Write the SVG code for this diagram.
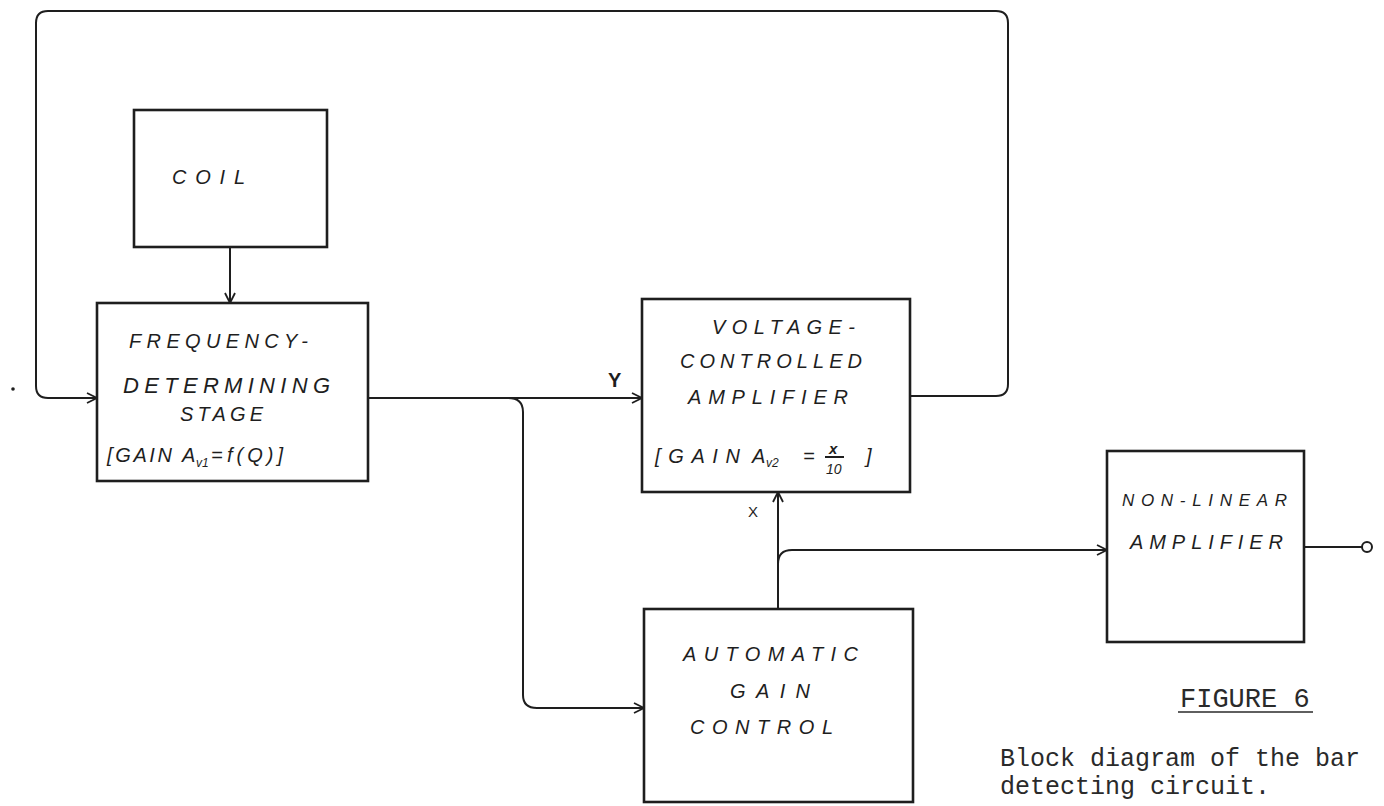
<svg xmlns="http://www.w3.org/2000/svg" width="1384" height="806" viewBox="0 0 1384 806">
<style>
.box{fill:none;stroke:#1e1e1e;stroke-width:2.6}
.wire{fill:none;stroke:#1e1e1e;stroke-width:2}
.hand{font-family:"Liberation Sans",Arial,sans-serif;font-style:italic;font-size:20px;fill:#1e1e1e}
.type{font-family:"Liberation Mono","Courier New",monospace;font-size:25px;fill:#2a2a2a}
.lbl{font-family:"Liberation Sans",Arial,sans-serif;fill:#1e1e1e}
</style>
<defs>
<marker id="arr" viewBox="0 0 12 12" refX="11" refY="6" markerWidth="12" markerHeight="12" markerUnits="userSpaceOnUse" orient="auto">
<path d="M1,1 L11,6 L1,11" fill="none" stroke="#1e1e1e" stroke-width="1.8"/>
</marker>
</defs>
<rect width="1384" height="806" fill="#ffffff"/>

<g id="connectors">
<path class="wire" d="M230,247 V303" marker-end="url(#arr)"/>
<path class="wire" d="M911,396 H996 Q1008,396 1008,384 V23 Q1008,11 996,11 H48 Q36,11 36,23 V386 Q36,398 48,398 H97" marker-end="url(#arr)"/>
<path class="wire" d="M368,398 H642" marker-end="url(#arr)"/>
<path class="wire" d="M508,398 Q523,398 523,412 V695 Q523,708 537,708 H644" marker-end="url(#arr)"/>
<path class="wire" d="M778,609 V492" marker-end="url(#arr)"/>
<path class="wire" d="M778,564 Q778,550 792,550 H1107" marker-end="url(#arr)"/>
<path class="wire" d="M1304,547 H1362"/>
<circle cx="1367" cy="547" r="5" fill="#fff" stroke="#1e1e1e" stroke-width="2"/>
<circle cx="13" cy="389" r="1.8" fill="#1e1e1e"/>
<text class="lbl" x="608" y="387" style="font-size:20px;font-weight:bold">Y</text>
<text class="lbl" x="748" y="517" style="font-size:15px">X</text>
</g>

<g id="coil">
<rect class="box" x="134" y="110" width="193" height="137"/>
<text class="hand" x="172" y="184" textLength="73" lengthAdjust="spacing">COIL</text>
</g>

<g id="frequency-determining-stage">
<rect class="box" x="97" y="303" width="271" height="178"/>
<text class="hand" x="129" y="348" textLength="179" lengthAdjust="spacing">FREQUENCY-</text>
<text class="hand" x="123" y="393" style="font-size:22px" textLength="207" lengthAdjust="spacing">DETERMINING</text>
<text class="hand" x="180" y="421" textLength="83" lengthAdjust="spacing">STAGE</text>
<text class="hand" x="107" y="462" textLength="65" lengthAdjust="spacing">[GAIN</text>
<text class="hand" x="182" y="462">A</text>
<text class="hand" x="196" y="467" style="font-size:12px">v1</text>
<text class="hand" x="211" y="462">=</text>
<text class="hand" x="227" y="462" textLength="56" lengthAdjust="spacing">f(Q)]</text>
</g>

<g id="voltage-controlled-amplifier">
<rect class="box" x="642" y="299" width="268" height="193"/>
<text class="hand" x="712" y="334" textLength="143" lengthAdjust="spacing">VOLTAGE-</text>
<text class="hand" x="680" y="368" textLength="182" lengthAdjust="spacing">CONTROLLED</text>
<text class="hand" x="688" y="404" textLength="160" lengthAdjust="spacing">AMPLIFIER</text>
<text class="hand" x="655" y="463" textLength="85" lengthAdjust="spacing">[GAIN</text>
<text class="hand" x="752" y="463">A</text>
<text class="hand" x="766" y="467" style="font-size:12px">v2</text>
<text class="hand" x="803" y="463">=</text>
<text class="hand" x="829" y="454" style="font-size:15px;font-weight:bold">x</text>
<line x1="825" y1="457" x2="844" y2="457" stroke="#1e1e1e" stroke-width="2"/>
<text class="hand" x="826" y="474" style="font-size:14px">10</text>
<text class="hand" x="866" y="463">]</text>
</g>

<g id="automatic-gain-control">
<rect class="box" x="644" y="609" width="269" height="193"/>
<text class="hand" x="683" y="661" textLength="175" lengthAdjust="spacing">AUTOMATIC</text>
<text class="hand" x="730" y="698" textLength="80" lengthAdjust="spacing">GAIN</text>
<text class="hand" x="690" y="734" textLength="143" lengthAdjust="spacing">CONTROL</text>
</g>

<g id="non-linear-amplifier">
<rect class="box" x="1107" y="451" width="197" height="191"/>
<text class="hand" x="1122" y="506" style="font-size:17px" textLength="165" lengthAdjust="spacing">NON-LINEAR</text>
<text class="hand" x="1130" y="549" textLength="153" lengthAdjust="spacing">AMPLIFIER</text>
</g>

<g id="caption">
<text class="type" x="1180" y="707" style="font-size:27px">FIGURE 6</text>
<line x1="1178" y1="712" x2="1313" y2="712" stroke="#2a2a2a" stroke-width="1.6"/>
<text class="type" x="1000" y="766">Block diagram of the bar</text>
<text class="type" x="1000" y="794">detecting circuit.</text>
</g>
</svg>
